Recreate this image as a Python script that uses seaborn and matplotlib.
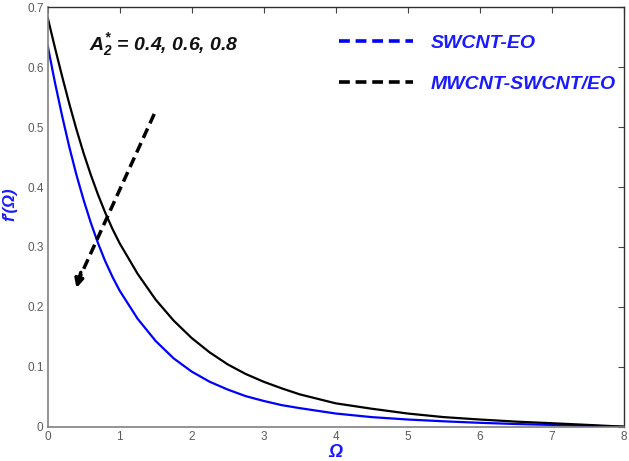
import matplotlib
matplotlib.use("Agg")
import matplotlib.pyplot as plt
import seaborn as sns
import pandas as pd
from matplotlib.lines import Line2D

# ---- data ----
omega = [0, 0.1, 0.2, 0.3, 0.4, 0.5, 0.6, 0.7, 0.8, 0.9, 1.0, 1.25, 1.5,
         1.75, 2.0, 2.25, 2.5, 2.75, 3.0, 3.25, 3.5, 4.0, 4.5, 5.0, 5.5,
         6.0, 6.5, 7.0, 7.5, 8.0]
swcnt_eo = [0.636, 0.575, 0.519, 0.467, 0.420, 0.378, 0.340, 0.306, 0.276,
            0.250, 0.227, 0.180, 0.143, 0.114, 0.092, 0.075, 0.062, 0.051,
            0.043, 0.036, 0.031, 0.022, 0.016, 0.012, 0.009, 0.0065, 0.0045,
            0.003, 0.0015, 0.0]
mwcnt_swcnt_eo = [0.683, 0.633, 0.585, 0.539, 0.496, 0.456, 0.420, 0.387,
                  0.357, 0.330, 0.306, 0.255, 0.212, 0.177, 0.148, 0.124,
                  0.104, 0.088, 0.075, 0.064, 0.054, 0.039, 0.030, 0.022,
                  0.016, 0.012, 0.0085, 0.0058, 0.003, 0.0]
series_names = ["SWCNT-EO", "MWCNT-SWCNT/EO"]
x_ticks = [0, 1, 2, 3, 4, 5, 6, 7, 8]
y_ticks = [0, 0.1, 0.2, 0.3, 0.4, 0.5, 0.6, 0.7]
annotation_text = r"$A_2^{*}$ = 0.4, 0.6, 0.8"

df = pd.DataFrame({
    "Omega": omega * 2,
    "f": swcnt_eo + mwcnt_swcnt_eo,
    "fluid": [series_names[0]] * len(omega) + [series_names[1]] * len(omega),
})

sns.set_style("white")
plt.rcParams["font.family"] = ["Liberation Sans", "DejaVu Sans"]
plt.rcParams["mathtext.fontset"] = "custom"
plt.rcParams["mathtext.rm"] = "Liberation Sans:italic:bold"
plt.rcParams["mathtext.it"] = "Liberation Sans:italic:bold"
plt.rcParams["mathtext.bf"] = "Liberation Sans:italic:bold"

fig = plt.figure(figsize=(6.29, 4.61), dpi=100)
ax = fig.add_axes([0.0758, 0.0744, 0.9158, 0.9098])

palette = {series_names[0]: "#0000ff", series_names[1]: "#000000"}
sns.lineplot(data=df, x="Omega", y="f", hue="fluid", palette=palette,
             ax=ax, legend=False, linewidth=1.6)

ax.set_xlim(0, 8)
ax.set_ylim(0, 0.7)
ax.set_xticks(x_ticks)
ax.set_yticks(y_ticks)
ax.set_xticklabels([str(t) for t in x_ticks])
ax.set_yticklabels(["0"] + [f"{t:.1f}" for t in y_ticks[1:]])
ax.tick_params(direction="in", length=4, width=0.8, top=True, right=True,
               labelsize=8.5, colors="#5a5a5a", pad=3)
ax.tick_params(axis="both", which="both", color="#444444")

for side in ["left", "bottom"]:
    ax.spines[side].set_color("#808080")
    ax.spines[side].set_linewidth(1.2)
for side in ["top", "right"]:
    ax.spines[side].set_color("#303030")
    ax.spines[side].set_linewidth(1.0)

ax.set_xlabel("Ω", color="#1a1aff", fontsize=13, fontweight="bold",
              fontstyle="italic")
ax.set_ylabel("f\u2032(Ω)", color="#1a1aff", fontsize=12, fontweight="bold",
              fontstyle="italic")
ax.xaxis.set_label_coords(0.5, -0.042)
ax.yaxis.set_label_coords(-0.052, 0.53)

# legend (dashed handles)
handles = [Line2D([0], [0], color="#0000ff", lw=2.6, linestyle=(0, (3, 1.6))),
           Line2D([0], [0], color="#000000", lw=2.6, linestyle=(0, (3, 1.6)))]
leg = ax.legend(handles, series_names, loc="upper left",
                bbox_to_anchor=(0.505, 0.935), frameon=False,
                handlelength=3.85, handletextpad=0.88, labelspacing=1.2,
                borderpad=0, borderaxespad=0,
                prop={"size": 14, "weight": "bold", "style": "italic",
                      "family": "Liberation Sans"})
for t in leg.get_texts():
    t.set_color("#1a1aff")

# annotation text
ax.text(0.57, 0.638, annotation_text, fontsize=14, fontweight="bold",
        fontstyle="italic", color="#111111", va="center", ha="left")

# dashed arrow
ax.plot([1.48, 0.43], [0.522, 0.245], color="black", lw=2.5,
        linestyle=(0, (3, 1.6)))
ax.annotate("", xy=(0.39, 0.227), xytext=(0.47, 0.262),
            arrowprops=dict(arrowstyle="-|>,head_length=0.5,head_width=0.25",
                            color="black", lw=2.5))

fig.savefig("out.png", dpi=100)
